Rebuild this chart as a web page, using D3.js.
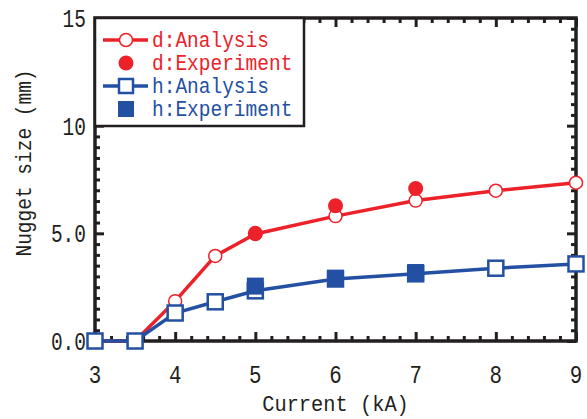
<!DOCTYPE html>
<html>
<head>
<meta charset="utf-8">
<script src="https://cdn.jsdelivr.net/npm/d3@7"></script>
<style>
  body { margin: 0; background: #fff; }
  svg { display: block; }
  text { font-family: "Liberation Mono", "DejaVu Sans Mono", monospace; }
</style>
</head>
<body>
<svg id="chart" width="587" height="419"></svg>
<script>
// Data
const currentAnalysis = [3, 3.5, 4, 4.5, 5, 6, 7, 8, 9];
const dAnalysis = [0, 0, 1.85, 3.95, 4.97, 5.8, 6.52, 6.98, 7.35];
const hAnalysis = [0, 0, 1.3, 1.82, 2.33, 2.88, 3.12, 3.38, 3.58];
const currentExperiment = [5, 6, 7];
const dExperiment = [5.0, 6.28, 7.08];
const hExperiment = [2.55, 2.92, 3.18];
const xTicks = [3, 4, 5, 6, 7, 8, 9];
const yTicks = [0, 5, 10, 15];
const yTickLabels = ['0.0', '5.0', '10', '15'];
const legendLabels = ['d:Analysis', 'd:Experiment', 'h:Analysis', 'h:Experiment'];

const red = '#ec2129', blue = '#2350a2', ink = '#231f20';

const svg = d3.select('#chart');
const plot = { left: 95, right: 576, top: 18, bottom: 341 };

const x = d3.scaleLinear().domain([3, 9]).range([plot.left, plot.right]);
const y = d3.scaleLinear().domain([0, 15]).range([plot.bottom, plot.top]);

// minor/major tick values
const xMinor = d3.range(3, 9.001, 0.2).map(v => +v.toFixed(2)).filter(v => !xTicks.includes(v));
const yMinor = d3.range(0, 15.001, 0.5).filter(v => !yTicks.includes(v));

function tickAxis(axisFn, scale, vals, size, transform) {
  const g = svg.append('g').attr('transform', transform)
    .call(axisFn(scale).tickValues(vals).tickSize(size).tickSizeOuter(0).tickFormat(''));
  g.select('.domain').remove();
  g.selectAll('line').attr('stroke', ink).attr('stroke-width', 3);
  return g;
}

// inward ticks on all four sides
tickAxis(d3.axisTop, x, xTicks, 9, `translate(0,${plot.bottom})`);
tickAxis(d3.axisTop, x, xMinor, 5, `translate(0,${plot.bottom})`);
tickAxis(d3.axisBottom, x, xTicks, 9, `translate(0,${plot.top})`);
tickAxis(d3.axisBottom, x, xMinor, 5, `translate(0,${plot.top})`);
tickAxis(d3.axisRight, y, yTicks, 9, `translate(${plot.left},0)`);
tickAxis(d3.axisRight, y, yMinor, 5, `translate(${plot.left},0)`);
tickAxis(d3.axisLeft, y, yTicks, 9, `translate(${plot.right},0)`);
tickAxis(d3.axisLeft, y, yMinor, 5, `translate(${plot.right},0)`);

svg.append('rect')
  .attr('x', plot.left).attr('y', plot.top)
  .attr('width', plot.right - plot.left).attr('height', plot.bottom - plot.top)
  .attr('fill', 'none').attr('stroke', ink).attr('stroke-width', 3.5);

// tick labels
svg.append('g').selectAll('text').data(xTicks).join('text')
  .attr('transform', d => `translate(${x(d)},383) scale(0.8,1)`)
  .attr('text-anchor', 'middle')
  .attr('font-size', 26).attr('fill', ink)
  .text(d => d);

svg.append('g').selectAll('text').data(yTicks).join('text')
  .attr('transform', d => `translate(86,${y(d) + 9}) scale(0.78,1)`)
  .attr('text-anchor', 'end')
  .attr('font-size', 25).attr('fill', ink)
  .text((d, i) => yTickLabels[i]);

// axis titles
svg.append('text')
  .attr('transform', `translate(${(plot.left + plot.right) / 2},411) scale(0.97,1.04)`)
  .attr('text-anchor', 'middle').attr('font-size', 21).attr('fill', ink)
  .text('Current (kA)');

svg.append('text')
  .attr('transform', 'translate(31,163) rotate(-90) scale(1,1.1)')
  .attr('text-anchor', 'middle').attr('font-size', 19.5).attr('fill', ink)
  .text('Nugget size (mm)');

// series
const line = d3.line().x(d => x(d[0])).y(d => y(d[1]));
const dA = currentAnalysis.map((c, i) => [c, dAnalysis[i]]);
const hA = currentAnalysis.map((c, i) => [c, hAnalysis[i]]);
const dE = currentExperiment.map((c, i) => [c, dExperiment[i]]);
const hE = currentExperiment.map((c, i) => [c, hExperiment[i]]);

svg.append('path').datum(dA).attr('d', line)
  .attr('fill', 'none').attr('stroke', red).attr('stroke-width', 3.5);
svg.append('g').selectAll('circle').data(dA).join('circle')
  .attr('cx', d => x(d[0])).attr('cy', d => y(d[1])).attr('r', 6.5)
  .attr('fill', '#fff').attr('stroke', red).attr('stroke-width', 1.5);

svg.append('path').datum(hA).attr('d', line)
  .attr('fill', 'none').attr('stroke', blue).attr('stroke-width', 3.5);
svg.append('g').selectAll('rect').data(hA).join('rect')
  .attr('x', d => x(d[0]) - 7.5).attr('y', d => y(d[1]) - 7.5)
  .attr('width', 15).attr('height', 15)
  .attr('fill', '#fff').attr('stroke', blue).attr('stroke-width', 2.5);

svg.append('g').selectAll('circle').data(dE).join('circle')
  .attr('cx', d => x(d[0])).attr('cy', d => y(d[1])).attr('r', 7.5)
  .attr('fill', red);
svg.append('g').selectAll('rect').data(hE).join('rect')
  .attr('x', d => x(d[0]) - 8.5).attr('y', d => y(d[1]) - 8.5)
  .attr('width', 17).attr('height', 17)
  .attr('fill', blue);

// legend
const lg = svg.append('g');
lg.append('rect')
  .attr('x', plot.left).attr('y', plot.top)
  .attr('width', 304 - plot.left).attr('height', 126 - plot.top)
  .attr('fill', '#fff').attr('stroke', ink).attr('stroke-width', 2.5);

const rowY = [40, 63, 86, 109];
const colors = [red, red, blue, blue];
legendLabels.forEach((lab, i) => {
  const cy = rowY[i], col = colors[i];
  if (i === 0 || i === 2) {
    lg.append('line').attr('x1', 103).attr('x2', 148).attr('y1', cy).attr('y2', cy)
      .attr('stroke', col).attr('stroke-width', 3.5);
  }
  if (i === 0) {
    lg.append('circle').attr('cx', 126).attr('cy', cy).attr('r', 6.5)
      .attr('fill', '#fff').attr('stroke', col).attr('stroke-width', 1.5);
  } else if (i === 1) {
    lg.append('circle').attr('cx', 126).attr('cy', cy).attr('r', 7.5).attr('fill', col);
  } else if (i === 2) {
    lg.append('rect').attr('x', 126 - 7).attr('y', cy - 7).attr('width', 14).attr('height', 14)
      .attr('fill', '#fff').attr('stroke', col).attr('stroke-width', 2.5);
  } else {
    lg.append('rect').attr('x', 126 - 8).attr('y', cy - 8).attr('width', 16).attr('height', 16)
      .attr('fill', col);
  }
  lg.append('text').attr('transform', `translate(152,${cy + 7}) scale(1,1.1)`)
    .attr('font-size', 19.5).attr('fill', col).text(lab);
});
</script>
</body>
</html>
